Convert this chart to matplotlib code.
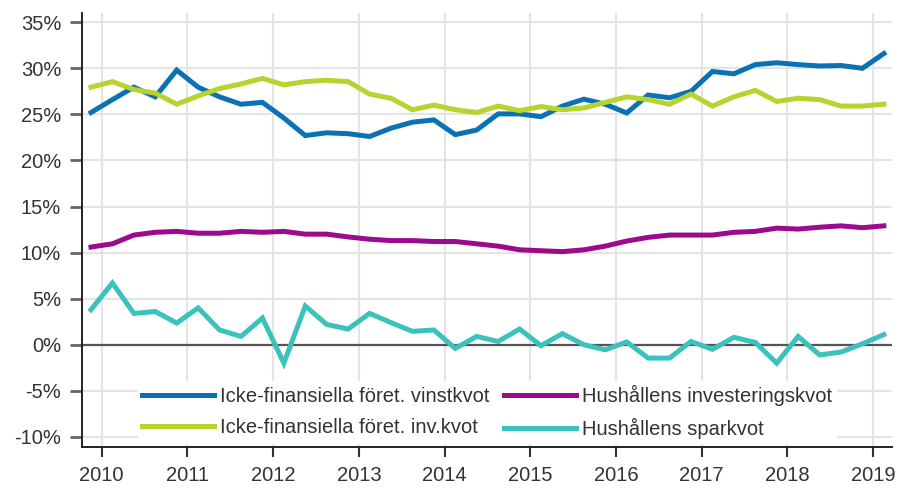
import matplotlib
matplotlib.use("Agg")
import matplotlib.pyplot as plt
import numpy as np

plt.rcParams['font.family'] = ['Liberation Sans', 'DejaVu Sans']
plt.rcParams['axes.unicode_minus'] = False

# kvartal 2010Q1 - 2019Q2
kvartal = np.arange(38) * 0.25 + 2009.875

vinstkvot = [25.2, 26.6, 27.95, 26.9, 29.8, 27.95, 26.9, 26.1, 26.3, 24.6,
             22.7, 23.0, 22.9, 22.6, 23.5, 24.15, 24.4, 22.8, 23.3, 25.05,
             25.05, 24.75, 25.9, 26.65, 26.1, 25.15, 27.1, 26.8, 27.5, 29.65,
             29.4, 30.4, 30.6, 30.4, 30.25, 30.3, 30.0, 31.6]
invkvot = [27.95, 28.55, 27.7, 27.3, 26.1, 27.0, 27.8, 28.3, 28.9, 28.2,
           28.55, 28.7, 28.55, 27.2, 26.75, 25.5, 26.0, 25.5, 25.2, 25.9,
           25.4, 25.85, 25.5, 25.7, 26.3, 26.9, 26.6, 26.1, 27.2, 25.9,
           26.9, 27.6, 26.4, 26.75, 26.6, 25.9, 25.9, 26.1]
hh_invkvot = [10.6, 10.95, 11.9, 12.2, 12.3, 12.1, 12.1, 12.3, 12.2, 12.3,
              12.0, 12.0, 11.7, 11.45, 11.3, 11.3, 11.2, 11.2, 10.95, 10.7,
              10.3, 10.2, 10.1, 10.3, 10.7, 11.25, 11.65, 11.9, 11.9, 11.9,
              12.2, 12.3, 12.65, 12.55, 12.75, 12.9, 12.7, 12.9]
sparkvot = [3.8, 6.7, 3.4, 3.6, 2.35, 4.0, 1.6, 0.9, 2.9, -2.0,
            4.2, 2.2, 1.7, 3.4, 2.4, 1.45, 1.6, -0.4, 0.9, 0.35,
            1.7, -0.1, 1.2, 0.0, -0.55, 0.3, -1.45, -1.45, 0.35, -0.5,
            0.8, 0.25, -2.0, 0.9, -1.1, -0.8, 0.1, 1.1]

serier = [
    ('Icke-finansiella föret. vinstkvot', vinstkvot, '#0a72b2'),
    ('Icke-finansiella föret. inv.kvot', invkvot, '#b7d32e'),
    ('Hushållens investeringskvot', hh_invkvot, '#9c0a8e'),
    ('Hushållens sparkvot', sparkvot, '#3cc2bc'),
]

ar = list(range(2010, 2020))
yticks = list(range(-10, 40, 5))

fig = plt.figure(figsize=(8.98, 4.88), dpi=100)
ax = fig.add_axes([82 / 898, 1 - 447 / 488, 810 / 898, 434 / 488])

for namn, varden, farg in serier:
    ax.plot(kvartal, varden, color=farg, lw=3.6, label=namn, solid_joinstyle='miter', zorder=3)

ax.axhline(0, color='#555555', lw=1.6, zorder=2)

ax.set_xlim(2009.77, 2019.22)
ax.set_ylim(-11.1, 36.0)
ax.set_xticks(ar)
ax.set_xticklabels([str(a) for a in ar])
ax.set_yticks(yticks)
ax.set_yticklabels([f"{v}%" for v in yticks])

ax.grid(True, color='#e4e4e4', lw=1.5, zorder=0)
ax.set_axisbelow(True)
for s in ['top', 'right']:
    ax.spines[s].set_visible(False)
ax.spines['left'].set_color('#222222')
ax.spines['bottom'].set_color('#222222')
ax.spines['left'].set_linewidth(1.4)
ax.spines['bottom'].set_linewidth(1.4)
ax.tick_params(axis='y', length=9, width=2, color='#666666', labelsize=14.5, labelcolor='#333333', pad=6)
ax.tick_params(axis='x', length=7, width=1.5, color='#333333', labelsize=14.5, labelcolor='#333333', pad=7)

leg = ax.legend(ncol=2, loc='center', bbox_to_anchor=(0.500, 0.080), fontsize=14.5,
                frameon=True, framealpha=1, edgecolor='white', fancybox=False,
                handlelength=3.6, handletextpad=0.3, columnspacing=0.7,
                labelspacing=0.6, borderpad=0.2)
for t in leg.get_texts():
    t.set_color('#333333')

fig.savefig('out.png', dpi=100)
